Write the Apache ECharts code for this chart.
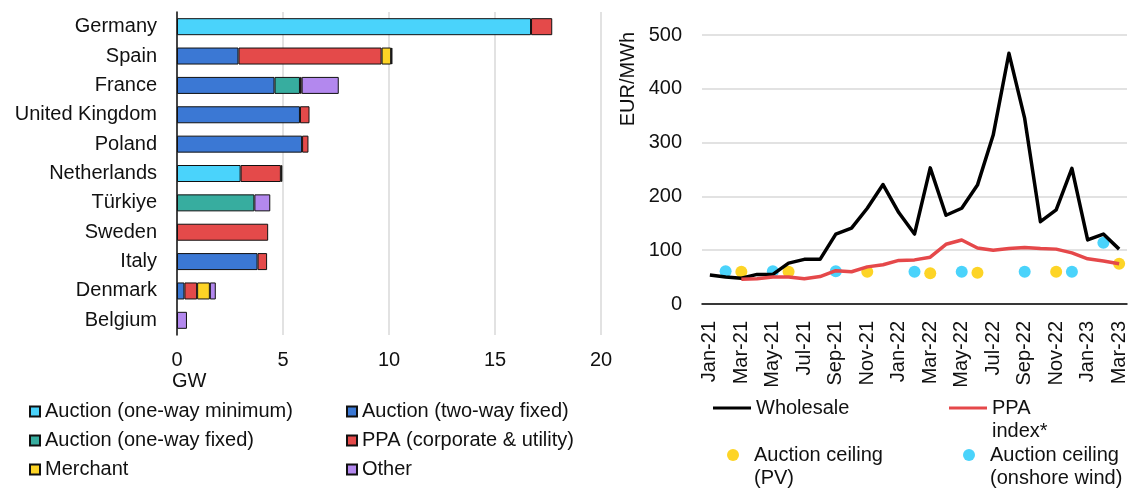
<!DOCTYPE html>
<html>
<head>
<meta charset="utf-8">
<script src="https://cdn.jsdelivr.net/npm/echarts@6/dist/echarts.min.js"></script>
<style>
  html, body { margin: 0; padding: 0; background: #fff; }
  #chart { width: 1131px; height: 491px; }
</style>
</head>
<body>
<div id="chart"></div>
<script>
// left: capacity by offtake route, GW
const countries = ['Germany', 'Spain', 'France', 'United Kingdom', 'Poland', 'Netherlands', 'Türkiye', 'Sweden', 'Italy', 'Denmark', 'Belgium'];
const oneWayMin   = [16.7, null, null, null, null, 3.0, null, null, null, null, null];
const twoWayFixed = [null, 2.9, 4.6, 5.8, 5.9, null, null, null, 3.8, 0.35, null];
const oneWayFixed = [null, null, 1.2, null, null, null, 3.65, null, null, null, null];
const ppa         = [1.0, 6.75, 0.08, 0.45, 0.3, 1.9, null, 4.3, 0.45, 0.6, null];
const merchant    = [null, 0.45, null, null, null, 0.07, null, null, null, 0.6, null];
const other       = [null, 0.06, 1.75, null, null, null, 0.75, null, null, 0.28, 0.47];
const gwTicks = [0, 5, 10, 15, 20];

// right: prices, EUR/MWh
const months = ['Jan-21', 'Feb-21', 'Mar-21', 'Apr-21', 'May-21', 'Jun-21', 'Jul-21', 'Aug-21', 'Sep-21', 'Oct-21', 'Nov-21', 'Dec-21',
  'Jan-22', 'Feb-22', 'Mar-22', 'Apr-22', 'May-22', 'Jun-22', 'Jul-22', 'Aug-22', 'Sep-22', 'Oct-22', 'Nov-22', 'Dec-22',
  'Jan-23', 'Feb-23', 'Mar-23'];
const wholesale = [54, 50, 48, 55, 55, 76, 83, 83, 130, 141, 178, 222, 170, 130, 253, 165, 178, 221, 314, 466, 345, 153, 175, 252, 119, 130, 102];
const ppaIndex = [null, null, 46, 47, 50, 50, 47, 51, 62, 60, 69, 73, 81, 82, 87, 111, 119, 104, 100, 103, 105, 103, 102, 95, 84, 80, 75];
const ceilingPV = [null, null, 60, null, null, 60, null, null, null, null, 60, null, null, null, 57, null, null, 58, null, null, null, null, 60, null, null, null, 75];
const ceilingWind = [null, 61, null, null, 61, null, null, null, 61, null, null, null, null, 60, null, null, 60, null, null, null, 60, null, null, 60, null, 114, null];

const font = 'Liberation Sans, Arial, sans-serif';
const ink = '#111';
const txt = { fontFamily: font, fontSize: 20, color: ink, lineHeight: 23 };

const barSeries = [
  ['Auction (one-way minimum)', oneWayMin, '#4ad3fb'],
  ['Auction (two-way fixed)', twoWayFixed, '#3b78d4'],
  ['Auction (one-way fixed)', oneWayFixed, '#37ad9f'],
  ['PPA (corporate & utility)', ppa, '#e44a4a'],
  ['Merchant', merchant, '#fdd426'],
  ['Other', other, '#b388ee']
].map(([name, data, color]) => ({
  name, data, type: 'bar', stack: 'gw', barWidth: 17,
  xAxisIndex: 0, yAxisIndex: 0,
  itemStyle: { color, borderColor: '#111', borderWidth: 1 }
}));

// left legend: 3 rows x 2 columns
const leftLegendPos = [[29, 400], [346, 400], [29, 429], [346, 429], [29, 458], [346, 458]];
const leftLegends = barSeries.map((s, i) => ({
  data: [s.name], left: leftLegendPos[i][0], top: leftLegendPos[i][1], padding: 0,
  itemWidth: 10, itemHeight: 10, icon: 'rect', selectedMode: false,
  textStyle: txt
}));

// two-line entries: a blank first line keeps the icon level with the first text line
const twoLine = name => ' \n' + name;
const rightLegends = [
  { data: ['Wholesale'], left: 713, top: 396.5, itemWidth: 38, itemHeight: 3, icon: 'rect', textStyle: txt },
  { data: ['PPA\nindex*'], left: 949, top: 373.5, itemWidth: 38, itemHeight: 3, icon: 'rect', formatter: twoLine, textStyle: txt },
  { data: ['Auction ceiling\n(PV)'], left: 727, top: 420.5, itemWidth: 12, itemHeight: 12, icon: 'circle', formatter: twoLine,
    textStyle: Object.assign({}, txt, { padding: [0, 0, 0, 10] }) },
  { data: ['Auction ceiling\n(onshore wind)'], left: 963, top: 420.5, itemWidth: 12, itemHeight: 12, icon: 'circle', formatter: twoLine,
    textStyle: Object.assign({}, txt, { padding: [0, 0, 0, 10] }) }
].map(l => Object.assign({ padding: 0, selectedMode: false }, l));

const chart = echarts.init(document.getElementById('chart'));
chart.setOption({
  animation: false,
  textStyle: { fontFamily: font },
  grid: [
    { left: 177, top: 12, width: 424, height: 323 },
    { left: 702, top: 35, width: 425, height: 269 }
  ],
  xAxis: [
    {
      gridIndex: 0, type: 'value', min: gwTicks[0], max: gwTicks[gwTicks.length - 1], interval: 5,
      axisLine: { show: false }, axisTick: { show: false },
      splitLine: { lineStyle: { color: '#d9d9d9', width: 1.5 } },
      axisLabel: { fontFamily: font, fontSize: 20, color: ink, margin: 15 }
    },
    {
      gridIndex: 1, type: 'category', data: months, boundaryGap: true,
      axisLine: { lineStyle: { color: '#000', width: 1.5 } },
      axisTick: { interval: 1, length: 6, lineStyle: { color: '#000', width: 1.5 } },
      axisLabel: { interval: 1, rotate: 90, fontFamily: font, fontSize: 20, color: ink, margin: 17 }
    }
  ],
  yAxis: [
    {
      gridIndex: 0, type: 'category', data: countries, inverse: true,
      axisLine: { lineStyle: { color: '#111', width: 1.5 } }, axisTick: { show: false },
      axisLabel: { fontFamily: font, fontSize: 20, color: ink, margin: 20 }
    },
    {
      gridIndex: 1, type: 'value', min: 0, max: 500, interval: 100,
      axisLine: { show: false }, axisTick: { show: false },
      splitLine: { lineStyle: { color: '#d9d9d9', width: 1.5 } },
      axisLabel: { fontFamily: font, fontSize: 20, color: ink, margin: 20 }
    }
  ],
  legend: leftLegends.concat(rightLegends),
  series: barSeries.concat([
    { name: 'Wholesale', type: 'line', xAxisIndex: 1, yAxisIndex: 1, data: wholesale, symbol: 'none',
      lineStyle: { color: '#000', width: 3.5, join: 'round' }, itemStyle: { color: '#000' } },
    { name: 'PPA\nindex*', type: 'line', xAxisIndex: 1, yAxisIndex: 1, data: ppaIndex, symbol: 'none',
      lineStyle: { color: '#e5484a', width: 3.5, join: 'round' }, itemStyle: { color: '#e5484a' } },
    { name: 'Auction ceiling\n(PV)', type: 'scatter', xAxisIndex: 1, yAxisIndex: 1, data: ceilingPV, symbolSize: 12,
      itemStyle: { color: '#fdd426', opacity: 1 } },
    { name: 'Auction ceiling\n(onshore wind)', type: 'scatter', xAxisIndex: 1, yAxisIndex: 1, data: ceilingWind, symbolSize: 12,
      itemStyle: { color: '#4ad3fb', opacity: 1 } }
  ]),
  graphic: [
    { type: 'text', left: 172, top: 371, style: { text: 'GW', font: '20px ' + font, fill: ink } },
    { type: 'text', x: 628, y: 79, rotation: Math.PI / 2,
      style: { text: 'EUR/MWh', font: '20px ' + font, fill: ink, align: 'center', verticalAlign: 'middle' } }
  ]
});
</script>
</body>
</html>
